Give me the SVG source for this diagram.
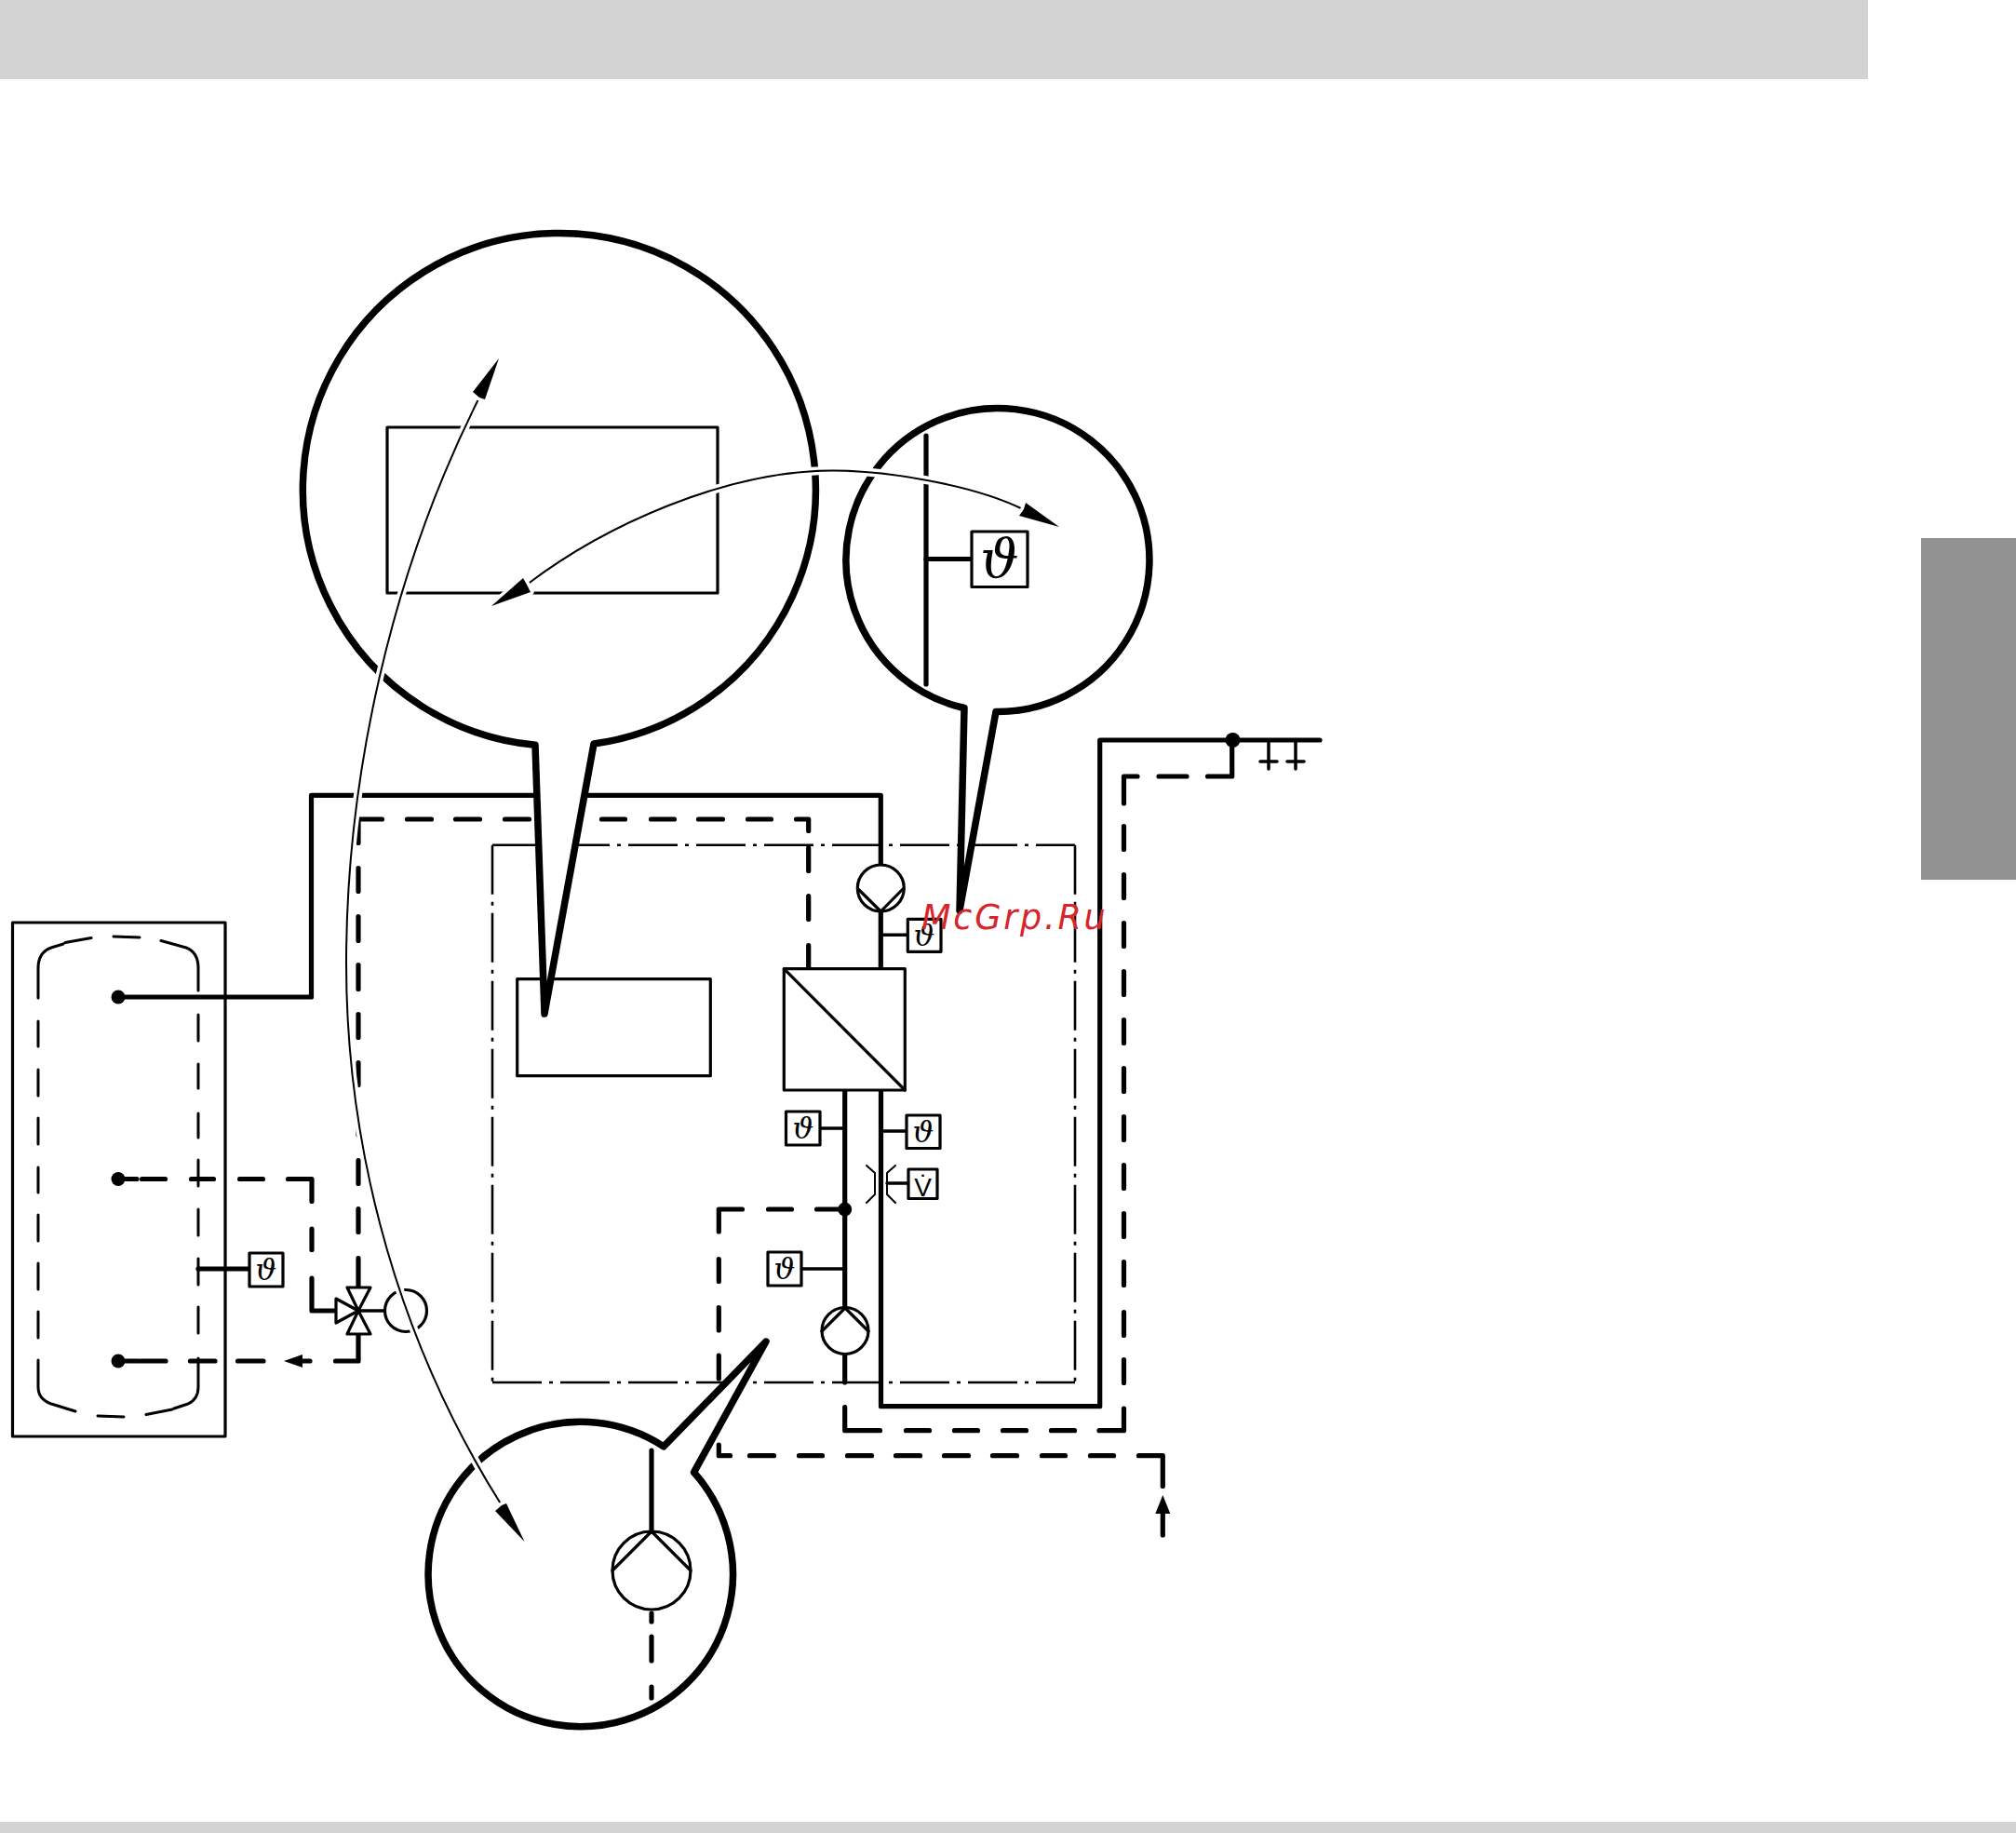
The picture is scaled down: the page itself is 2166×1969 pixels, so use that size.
<svg xmlns="http://www.w3.org/2000/svg" width="2166" height="1969" viewBox="0 0 2166 1969">
<style>
.bg{fill:#fff}
.band{fill:#d3d3d3}
.tab{fill:#929292}
path,line,circle,rect,polygon{stroke-linecap:round;stroke-linejoin:round}
.pipe{fill:none;stroke:#000;stroke-width:5.2}
.thin{fill:none;stroke:#000;stroke-width:3.5}
.frame{fill:#fff;stroke:#000;stroke-width:3.2}
.open{fill:none;stroke:#000;stroke-width:3.2}
.liner{fill:none;stroke:#000;stroke-width:3}
.dashdot{fill:none;stroke:#000;stroke-width:2.6;stroke-dasharray:53 8 4 8;stroke-linecap:butt}
.call{fill:#fff;stroke:#000;stroke-width:7.5}
.dot{fill:#000}
.halo{fill:none;stroke:#fff;stroke-width:9;stroke-linecap:butt}
.curve{fill:none;stroke:#000;stroke-width:2}
.head{fill:#000;stroke:#fff;stroke-width:7;paint-order:stroke}
.orif{fill:none;stroke:#000;stroke-width:2}
.sym{font-family:"DejaVu Serif",serif;font-style:italic;text-anchor:middle;fill:#000}
.s{font-size:32px}
.l{font-size:58px}
.v{font-family:"Liberation Sans",sans-serif;font-size:28px;text-anchor:middle;fill:#000}
.wm{font-family:"DejaVu Sans",sans-serif;font-style:oblique;font-size:36.5px;letter-spacing:2.8px;fill:#d7262b}
</style>
<rect class="bg" width="2166" height="1969"/>
<rect class="band" x="0" y="0" width="2007" height="85"/>
<rect class="band" x="0" y="1957" width="2166" height="12"/>
<rect class="tab" x="2064" y="578" width="102" height="367"/>

<g id="boundary"><path class="dashdot" d="M529,907.7H1155M529,1485H1155M529,907.7V1485M1155,907.7V1485"/></g>

<g id="tank">
<rect class="open" x="13.5" y="991" width="228.5" height="552"/>
<path class="liner" d="M122,1006L150,1007M70,1012.5L98,1007.5M68,1014L55,1018Q41,1023 41,1040V1072M41,1097V1124M41,1149V1177M41,1201V1229M41,1254V1281M41,1305V1333M41,1357V1385M41,1409V1437M41,1461V1490Q41,1503 55,1508L81,1516M105,1521L133,1522M157,1519.5L185,1514M187,1513L202,1508Q213,1503 213,1490V1459M213,1432V1404M213,1380V1352M213,1327V1299M213,1274V1246M213,1222V1196M213,1169V1143M213,1118V1090M213,1064V1040Q213,1023 200,1018L173,1010.5"/>
</g>

<g id="connectors">
<path class="pipe" d="M127,1071H334.5V854.3H946.3V929"/>
<path class="pipe" d="M946.3,979V1040.7"/>
<path class="pipe" d="M946.5,1171V1510.7H1181.7V795H1418"/>
<path class="pipe" d="M907.7,1171V1405M907.7,1455V1485"/>
<path class="pipe" d="M1323.7,795V834H1297.5M1275,834H1245M1222,834H1207.5V863M1207.5,887.5V912.5M1207.5,939.5V964.5M1207.5,991.5V1016.5M1207.5,1043.5V1068.5M1207.5,1095.5V1120.5M1207.5,1147.5V1172.5M1207.5,1199.5V1224.5M1207.5,1251.5V1276.5M1207.5,1303.5V1328.5M1207.5,1355.5V1380.5M1207.5,1409.5V1434.5M1207.5,1460.5V1485.5M1207.5,1513V1536.7H1181M1154.5,1536.7H1129.5M1102.5,1536.7H1077.5M1050.5,1536.7H1025.5M998.5,1536.7H973.5M945.5,1536.7H907.7V1511.5"/>
<path class="thin" d="M1363,795V826M1392,795V826M1354,818H1372M1383,818H1401"/>
<path class="pipe" d="M385,1381V1351.5M385,1323.5V1298.5M385,1271.5V1246.5M385,1219V1193.5M385,1165.5V1141.5M385,1114.5V1089.5M385,1062.5V1036.5M385,1010.5V984.5M385,957.5V932.5M385,905.5V880H410.5M437.5,880H463.5M489.5,880H515.5M542.5,880H568.5M646.5,880H671.5M699.5,880H724.5M750.5,880H776.5M803.5,880H828.5M855.5,880H868.7V892.5M868.7,910.5V935.5M868.7,962.5V987.5M868.7,1015.5V1040"/>
<path class="pipe" d="M127,1266.5H147M152.5,1266.5H177.5M205.5,1266.5H229.5M257.5,1266.5H282.5M309.5,1266.5H335V1290.5M335,1320V1342.5M335,1373V1408H362"/>
<path class="pipe" d="M385,1433V1462H360.5M333,1462H325M283,1462H255.5M231,1462H204.5M178,1462H151.5M149,1462H127"/>
<polygon class="dot" points="305,1462 325,1455 325,1469"/>
<path class="pipe" d="M907.7,1299H877.5M850.5,1299H825.5M797.5,1299H772.3V1323M772.3,1352.5V1376.5M772.3,1404.5V1429M772.3,1456V1481M772.3,1508.5V1533M772.3,1552V1563.7H784.5M805.5,1563.7H831.5M858.5,1563.7H883.5M910.5,1563.7H936.5M962.5,1563.7H988.5M1014.5,1563.7H1040.5M1066.5,1563.7H1092.5M1119.5,1563.7H1144.5M1171.5,1563.7H1196.5M1223.5,1563.7H1249.3V1596.5"/>
<path class="pipe" d="M1249.3,1626V1649"/>
<polygon class="dot" points="1249.3,1606 1257.3,1626 1241.3,1626"/>
<line class="thin" x1="946.3" y1="1004.3" x2="975" y2="1004.3"/>
<circle class="dot" cx="127" cy="1071" r="7.5"/>
<circle class="dot" cx="127" cy="1266.5" r="7.5"/>
<circle class="dot" cx="127" cy="1462" r="7.5"/>
<circle class="dot" cx="907.7" cy="1299" r="7.5"/>
<circle class="dot" cx="1324.5" cy="795" r="8"/>
</g>

<g id="tank-sensor">
<line class="pipe" x1="213" y1="1363" x2="268" y2="1363"/>
<rect class="frame" x="268" y="1346" width="36" height="36"/>
<text class="sym s" x="286" y="1375">ϑ</text>
</g>

<g id="valve">
<polygon class="frame" points="361,1395 385,1408 361,1421"/>
<polygon class="frame" points="373,1383 398,1383 385,1408"/>
<polygon class="frame" points="373,1433 398,1433 385,1408"/>
<line class="thin" x1="385" y1="1408" x2="413" y2="1408"/>
<circle class="open" cx="436" cy="1408" r="22.5"/>
</g>

<g id="controller"><rect class="open" x="555.7" y="1051.7" width="207.6" height="104"/></g>

<g id="exchanger">
<rect class="frame" x="842.3" y="1040.7" width="130" height="130.3"/>
<line class="open" x1="842.3" y1="1040.7" x2="972.3" y2="1171"/>
</g>

<g id="pump-top">
<circle class="frame" cx="946.3" cy="954" r="25"/>
<path class="open" d="M922,955L946.3,979L970,955"/>
</g>

<g id="sensor-a"><rect class="frame" x="975.3" y="987.3" width="35.7" height="35"/><text class="sym s" x="993" y="1016">ϑ</text></g>

<g id="sensor-b"><line class="thin" x1="881" y1="1212" x2="907.7" y2="1212"/><rect class="frame" x="844.5" y="1194" width="36.5" height="36"/><text class="sym s" x="863" y="1223">ϑ</text></g>
<g id="sensor-c"><line class="thin" x1="946.5" y1="1215" x2="974" y2="1215"/><rect class="frame" x="974" y="1198" width="36" height="35.5"/><text class="sym s" x="992" y="1227">ϑ</text></g>
<g id="sensor-d"><line class="thin" x1="861" y1="1363" x2="907.7" y2="1363"/><rect class="frame" x="825" y="1345" width="36" height="36"/><text class="sym s" x="843" y="1374">ϑ</text></g>

<g id="flow-meter">
<path class="orif" d="M931,1252L940,1260V1283L931,1292M962,1252L953,1260V1283L962,1292"/>
<line class="thin" x1="953" y1="1271" x2="976" y2="1271"/>
<rect class="frame" x="976" y="1256" width="31" height="31.5"/>
<text class="v" x="991.5" y="1285">V̇</text>
</g>

<g id="pump-bottom">
<circle class="frame" cx="908" cy="1429.5" r="25"/>
<path class="open" d="M883,1430L908,1405L933,1430"/>
</g>

<g id="callout-large">
<path class="call" d="M585,1089L638,799A275.5,275.5 0 1 0 575,800.3Z"/>
<rect class="open" x="416" y="459" width="355" height="178"/>
</g>

<g id="callout-sensor">
<path class="call" d="M1031,978L1070,764.5A163,163 0 1 0 1036,760.5Z"/>
<line class="pipe" x1="995" y1="468" x2="995" y2="735"/>
<line class="pipe" x1="995" y1="600.5" x2="1044" y2="600.5"/>
<rect class="frame" x="1044" y="571" width="60" height="59.5"/>
<text class="sym l" x="1074" y="620">ϑ</text>
</g>

<g id="callout-pump">
<path class="call" d="M823,1441L713,1553.8A163.7,163.7 0 1 0 745.5,1581.6Z"/>
<line class="pipe" x1="700" y1="1558" x2="700" y2="1645"/>
<circle class="open" cx="700" cy="1687" r="42"/>
<path class="open" d="M658,1687L700,1645L742,1687"/>
<path class="pipe" d="M700,1733V1742M700,1758V1784M700,1812V1824"/>
</g>

<g id="arrows">
<path class="halo" d="M516,425C420,615 372,835 372,1035C372,1205 413,1417 539,1617"/>
<path class="halo" d="M566,628C650,564 780,505.5 895,505.5C950,505.5 1045,520 1100,547.5"/>
<path class="curve" d="M516,425C420,615 372,835 372,1035C372,1205 413,1417 539,1617"/>
<path class="curve" d="M566,628C650,564 780,505.5 895,505.5C950,505.5 1045,520 1100,547.5"/>
<polygon class="head" points="536,385 521,429 515,427 508,421"/>
<polygon class="head" points="563.5,1656 532,1623 539,1617 544,1615"/>
<polygon class="head" points="528,651 562,621 566,628 570,636"/>
<polygon class="head" points="1138,566 1102,540 1100,547 1095,554"/>
</g>

<text class="wm" x="990" y="998">McGrp.Ru</text>
</svg>
